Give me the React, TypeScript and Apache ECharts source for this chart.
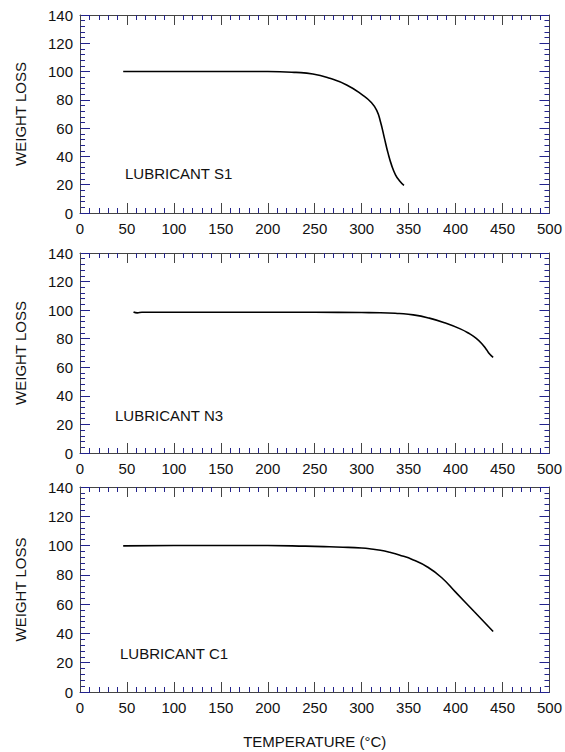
import React, { useEffect, useRef } from "react";
import * as echarts from "echarts";

const xTicks = [0, 50, 100, 150, 200, 250, 300, 350, 400, 450, 500];
const yTicks = [0, 20, 40, 60, 80, 100, 120, 140];

const s1Temp = [46, 100, 150, 200, 230, 248, 266, 284, 301, 310, 316, 320, 324, 328, 332, 336, 340, 345];
const s1Loss = [100, 100, 100, 100, 99.4, 98.3, 95.2, 90.5, 83.4, 78.3, 72.5, 64.5, 53.5, 42.5, 33.5, 27, 23, 19.5];

const n3Temp = [57, 61, 66, 100, 150, 200, 250, 300, 320, 340, 355, 372, 390, 405, 415, 422, 428, 433, 436, 440];
const n3Loss = [98.7, 98.1, 98.5, 98.5, 98.5, 98.5, 98.5, 98.3, 98.2, 97.6, 96.7, 94.4, 90.8, 86.9, 83.4, 80.3, 76.5, 72.3, 69.5, 67];

const c1Temp = [46, 100, 150, 200, 240, 260, 280, 300, 310, 320, 330, 340, 355, 370, 385, 400, 420, 440];
const c1Loss = [99.8, 100, 100.1, 100, 99.6, 99.3, 98.9, 98.3, 97.7, 96.8, 95.4, 93.6, 90.2, 85.4, 78.2, 68.2, 54.8, 41.3];

const panelNames = ["LUBRICANT S1", "LUBRICANT N3", "LUBRICANT C1"];
const yName = "WEIGHT LOSS";
const xName = "TEMPERATURE (°C)";

const FONT = "'Liberation Sans', Arial, sans-serif";
const NAVY = "#23238c";
const AXIS = "#444";

const grids = [
  { left: 80, width: 470, top: 15, height: 198 },
  { left: 80, width: 470, top: 253, height: 200 },
  { left: 80, width: 470, top: 487, height: 205 },
];
const labelPos = [
  { x: 125, y: 173 },
  { x: 115, y: 415 },
  { x: 120, y: 653 },
];

export default function App() {
  const ref = useRef<HTMLDivElement>(null);
  useEffect(() => {
    if (!ref.current) return;
    const chart = echarts.init(ref.current, null, { renderer: "svg" });
    const datasets = [
      s1Temp.map((t, i) => [t, s1Loss[i]]),
      n3Temp.map((t, i) => [t, n3Loss[i]]),
      c1Temp.map((t, i) => [t, c1Loss[i]]),
    ];
    const xAxes: any[] = [];
    const yAxes: any[] = [];
    grids.forEach((_, i) => {
      ["bottom", "top"].forEach((pos) => {
        xAxes.push({
          type: "value",
          gridIndex: i,
          position: pos,
          min: xTicks[0],
          max: xTicks[xTicks.length - 1],
          interval: 50,
          axisLine: { show: true, onZero: false, lineStyle: { color: AXIS, width: 1 } },
          axisTick: { show: true, inside: true, length: 10, lineStyle: { color: AXIS, width: 1 } },
          minorTick: { show: true, splitNumber: 5, length: 5, lineStyle: { color: NAVY, width: 1 } },
          splitLine: { show: false },
          axisLabel: {
            show: pos === "bottom",
            margin: 8,
            fontSize: 15,
            color: "#111",
            fontFamily: FONT,
          },
          name: pos === "bottom" && i === 2 ? xName : "",
          nameLocation: "middle",
          nameGap: 42,
          nameTextStyle: { fontSize: 15, color: "#111", fontFamily: FONT },
        });
      });
      ["left", "right"].forEach((pos) => {
        yAxes.push({
          type: "value",
          gridIndex: i,
          position: pos,
          min: yTicks[0],
          max: yTicks[yTicks.length - 1],
          interval: 20,
          axisLine: { show: true, onZero: false, lineStyle: { color: AXIS, width: 1 } },
          axisTick: { show: true, inside: true, length: 10, lineStyle: { color: NAVY, width: 1 } },
          minorTick: { show: true, splitNumber: 5, length: 5, lineStyle: { color: NAVY, width: 1 } },
          splitLine: { show: false },
          axisLabel: {
            show: pos === "left",
            margin: 7,
            fontSize: 15,
            color: "#111",
            fontFamily: FONT,
          },
          name: pos === "left" ? yName : "",
          nameLocation: "middle",
          nameGap: 52,
          nameTextStyle: { fontSize: 15, color: "#111", fontFamily: FONT },
        });
      });
    });
    chart.setOption({
      animation: false,
      backgroundColor: "#fff",
      grid: grids,
      xAxis: xAxes,
      yAxis: yAxes,
      series: datasets.map((d, i) => ({
        type: "line",
        xAxisIndex: 2 * i,
        yAxisIndex: 2 * i,
        data: d,
        showSymbol: false,
        smooth: 0.5,
        lineStyle: { color: "#000", width: 1.6 },
      })),
      graphic: panelNames.map((n, i) => ({
        type: "text",
        x: labelPos[i].x,
        y: labelPos[i].y,
        style: {
          text: n,
          fontSize: 15,
          fontFamily: FONT,
          fill: "#111",
          verticalAlign: "middle",
          align: "left",
        },
      })),
    });
    return () => chart.dispose();
  }, []);
  return (
    <div
      ref={ref}
      style={{ position: "absolute", left: 0, top: 0, width: 565, height: 752 }}
    />
  );
}
